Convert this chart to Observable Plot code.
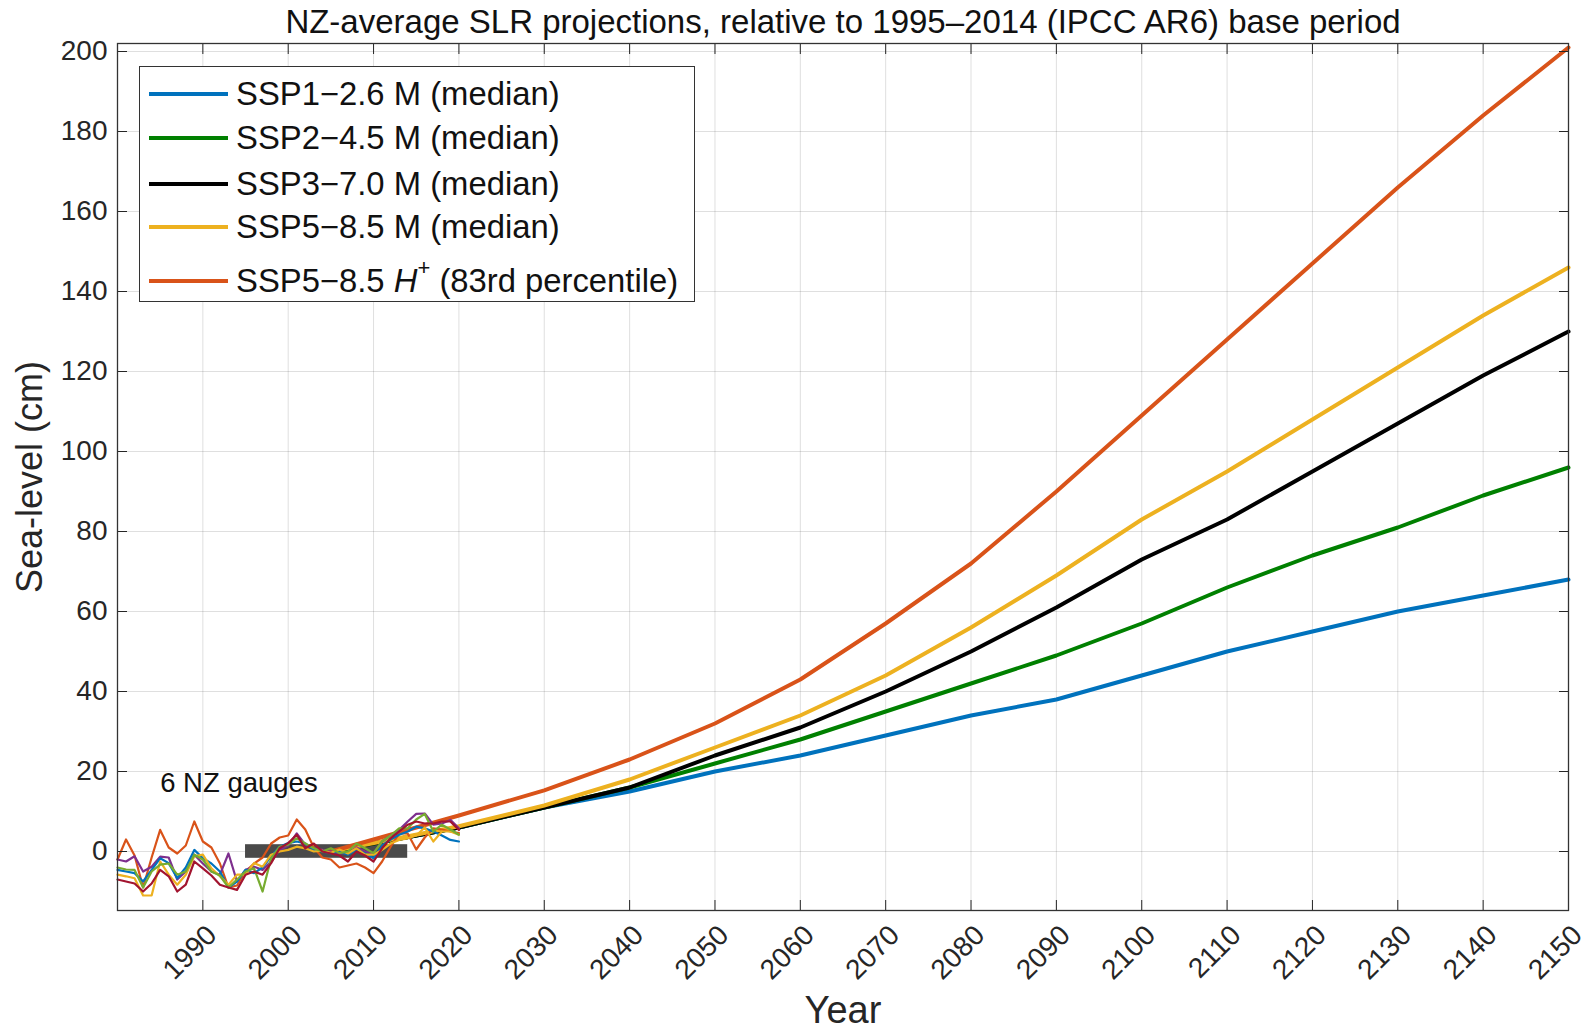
<!DOCTYPE html>
<html>
<head>
<meta charset="utf-8">
<script src="https://cdn.jsdelivr.net/npm/d3@7"></script>
<script src="https://cdn.jsdelivr.net/npm/@observablehq/plot@0.6"></script>
<style>
  html, body { margin: 0; padding: 0; background: #fff; }
  #wrap { position: relative; width: 1591px; height: 1033px; font-family: "Liberation Sans", Arial, sans-serif; }
  #legend { position: absolute; left: 139px; top: 66px; width: 556px; height: 236px; border: 1.3px solid #333; background: #fff; box-sizing: border-box; }
  .row { position: absolute; left: 0; height: 40px; display: flex; align-items: center; }
  .row svg { margin-left: 9px; margin-right: 8px; }
  .row span { font-size: 32.8px; color: #111; white-space: nowrap; }
</style>
</head>
<body>
<div id="wrap">
  <div id="chart"></div>
  <div id="legend"></div>
</div>
<script>
const titleText = "NZ-average SLR projections, relative to 1995\u20132014 (IPCC AR6) base period";
const xLabel = "Year";
const yLabel = "Sea-level (cm)";
const xTicks = [1990, 2000, 2010, 2020, 2030, 2040, 2050, 2060, 2070, 2080, 2090, 2100, 2110, 2120, 2130, 2140, 2150];
const yTicks = [0, 20, 40, 60, 80, 100, 120, 140, 160, 180, 200];

// Projection series
const projYears = [2005, 2020, 2030, 2040, 2050, 2060, 2070, 2080, 2090, 2100, 2110, 2120, 2130, 2140, 2150];
const ssp126 = [0, 6, 11, 15, 20, 24, 29, 34, 38, 44, 50, 55, 60, 64, 68];
const ssp245 = [0, 6, 11, 16, 22, 28, 35, 42, 49, 57, 66, 74, 81, 89, 96];
const ssp370 = [0, 6, 11, 16, 24, 31, 40, 50, 61, 73, 83, 95, 107, 119, 130];
const ssp585 = [0, 6.3, 11.5, 18, 26, 34, 44, 56, 69, 83, 95, 108, 121, 134, 146];
const ssp585H = [0, 9, 15.3, 23, 32, 43, 57, 72, 90, 109, 128, 147, 166, 184, 201];
const projNames = ["SSP1\u22122.6 M (median)", "SSP2\u22124.5 M (median)", "SSP3\u22127.0 M (median)", "SSP5\u22128.5 M (median)", "SSP5\u22128.5 H+ (83rd percentile)"];
const projColors = ["#0072BD", "#008000", "#000000", "#EDB120", "#D95319"];

// Tide gauges (annual, cm)
const gaugeYears = [1980,1981,1982,1983,1984,1985,1986,1987,1988,1989,1990,1991,1992,1993,1994,1995,1996,1997,1998,1999,2000,2001,2002,2003,2004,2005,2006,2007,2008,2009,2010,2011,2012,2013,2014,2015,2016,2017,2018,2019,2020];
const gaugeA = [-2, 3, -1, -9, -1.5, 5.4, 1, -0.5, 1.5, 7.5, 2.5, 1, -3, -9, -8.5, -5, -3, -1.5, 2, 3.5, 4, 8, 5.5, 1, -1.5, -2, -4, -3.5, -3, -4, -5.4, -2.5, 1.2, 4.5, 4.5, 0.5, 3.5, 5.8, 5.5, 5, 4.6];
const gaugeB = [-2, -2.5, -1.2, -5, -3.8, -1.3, -1.5, -7, -5, -0.8, -3, -5, -5.8, -0.5, -7.5, -4.6, -3.8, -4.6, -2.5, 0.4, 1.5, 4.5, 1.7, 0.8, 0.4, 0, -0.5, -0.4, 1, 0, -0.4, 2.5, 4, 5.4, 7.5, 9.4, 9.5, 6.7, 7, 7.9, 5.8];
const gaugeC = [-4.6, -5, -5.4, -7.5, -4.6, -1.7, -2.9, -6.7, -4, 0.4, -1.7, -3, -5, -9, -7.5, -4.6, -5.4, -4, -1.2, 1.2, 2.1, 2.5, 2, 0.4, 0, -0.5, 0, -0.8, 0.5, -0.5, -1.7, 1.5, 3, 4.2, 5, 6.2, 5.8, 5, 4, 2.9, 2.5];
const gaugeD = [-5.8, -6.2, -6.7, -11, -11, -2.5, -5.8, -8.3, -5.8, -1.2, -0.8, -4.2, -6.2, -8.3, -5.8, -5.8, -2.9, -3.8, -0.8, 0, 0.4, 1.2, 0.8, 0, 0.2, -0.3, 0.5, -0.5, 0.8, -0.8, -0.8, 0.4, 2, 2.9, 3.3, 4, 6, 2.5, 5, 5, 4.2];
const gaugeE = [-4, -4.5, -4.6, -9, -5, -3.3, -3, -5.8, -5, -0.8, -2, -5, -6, -9, -7, -5, -4.2, -10, -1.7, 1.2, 1.7, 3.3, 2, 0.8, 0, 0.8, -0.4, 0, 2, 0.8, -0.4, 2.5, 4, 5.8, 5.8, 8, 9.4, 5, 6.7, 5.5, 4.2];
const gaugeF = [-7, -7.5, -8, -10, -8, -4.6, -6.2, -10, -8.3, -2.5, -4.2, -6, -8.3, -9, -9.6, -5.8, -5, -5.8, -2.9, 0.8, 2.1, 4.2, 0.8, 2, 0, -0.5, -1, -2.5, 0, -1, -2.5, 0.8, 3.3, 5, 6.7, 7.5, 7, 7, 7.5, 7.5, 5.4];
const gaugeColors = ["#D95319", "#7E2F8E", "#0072BD", "#EDB120", "#77AC30", "#A2142F"];

// Base period bar (1995-2014)
const baseStart = [1995];
const baseEnd = [2014];
const baseHalfHeight = [1.7];

const gaugeLabel = ["6 NZ gauges"];
const gaugeLabelX = [1985];
const gaugeLabelY = [17];

// ---- build tables
const projSeries = [ssp126, ssp245, ssp370, ssp585, ssp585H];
const projRows = projSeries.map((vals, i) => projYears.map((yr, j) => ({year: yr, value: vals[j], s: i})));
const gaugeSeries = [gaugeA, gaugeB, gaugeC, gaugeD, gaugeE, gaugeF];
const gaugeRows = gaugeSeries.map((vals, i) => gaugeYears.map((yr, j) => ({year: yr, value: vals[j], g: i})));
const bar = baseStart.map((s, i) => ({x1: s, x2: baseEnd[i], y1: -baseHalfHeight[i], y2: baseHalfHeight[i]}));

const axisColor = "#262626";
const chart = Plot.plot({
  width: 1591,
  height: 1033,
  marginLeft: 117,
  marginRight: 23,
  marginTop: 43,
  marginBottom: 123,
  style: {fontFamily: '"Liberation Sans", Arial, sans-serif', color: axisColor, background: "#fff"},
  x: {domain: [1980, 2150], label: null},
  y: {domain: [-14.75, 202], label: null},
  marks: [
    Plot.gridX(xTicks, {stroke: "#262626", strokeOpacity: 0.15}),
    Plot.gridY(yTicks, {stroke: "#262626", strokeOpacity: 0.15}),
    Plot.rect(bar, {x1: "x1", x2: "x2", y1: "y1", y2: "y2", fill: "#4a4a4a"}),
    ...projRows.map((rows, i) => Plot.line(rows, {x: "year", y: "value", stroke: projColors[i], strokeWidth: 4})),
    ...gaugeRows.map((rows, i) => Plot.line(rows, {x: "year", y: "value", stroke: gaugeColors[i], strokeWidth: 2.2})),
    Plot.text(gaugeLabel, {x: gaugeLabelX, y: gaugeLabelY, text: d => d, textAnchor: "start", fontSize: 27.5, fill: "#111"}),
    Plot.axisX(xTicks, {anchor: "bottom", tickSize: 0, tickPadding: 20, dx: 9, tickRotate: -45, fontSize: 28, label: null, tickFormat: d => String(d)}),
    Plot.axisX(xTicks, {anchor: "bottom", tickSize: -10, tickFormat: () => "", label: null}),
    Plot.axisX(xTicks, {anchor: "top", tickSize: -10, tickFormat: () => "", label: null}),
    Plot.axisY(yTicks, {anchor: "left", tickSize: -10, tickPadding: 20, fontSize: 28, label: null}),
    Plot.axisY(yTicks, {anchor: "right", tickSize: -10, tickFormat: () => "", label: null}),
    Plot.frame({stroke: "#333", strokeWidth: 1.3}),
    Plot.text([titleText], {text: d => d, frameAnchor: "top", dy: -21, fontSize: 33, lineAnchor: "middle", fill: "#111"}),
    Plot.text([xLabel], {text: d => d, frameAnchor: "bottom", dy: 100, fontSize: 38, lineAnchor: "middle", fill: "#262626"}),
    Plot.text([yLabel], {text: d => d, frameAnchor: "left", dx: -87, rotate: -90, fontSize: 36, textAnchor: "middle", lineAnchor: "middle", fill: "#262626"})
  ]
});
document.getElementById("chart").appendChild(chart);

// ---- legend
const legend = document.getElementById("legend");
const rowTops = [7, 51, 97, 140, 194];
projNames.forEach((name, i) => {
  const row = document.createElement("div");
  row.className = "row";
  row.style.top = rowTops[i] + "px";
  const sw = `<svg width="79" height="6"><line x1="0" y1="3" x2="79" y2="3" stroke="${projColors[i]}" stroke-width="4"/></svg>`;
  let label = name;
  if (name.includes("H+")) {
    label = name.replace("H+", '<i>H</i><sup style="font-size:22px;position:relative;top:-5px;vertical-align:super;line-height:0">+</sup>');
  }
  row.innerHTML = sw + `<span>${label}</span>`;
  legend.appendChild(row);
});
</script>
</body>
</html>
